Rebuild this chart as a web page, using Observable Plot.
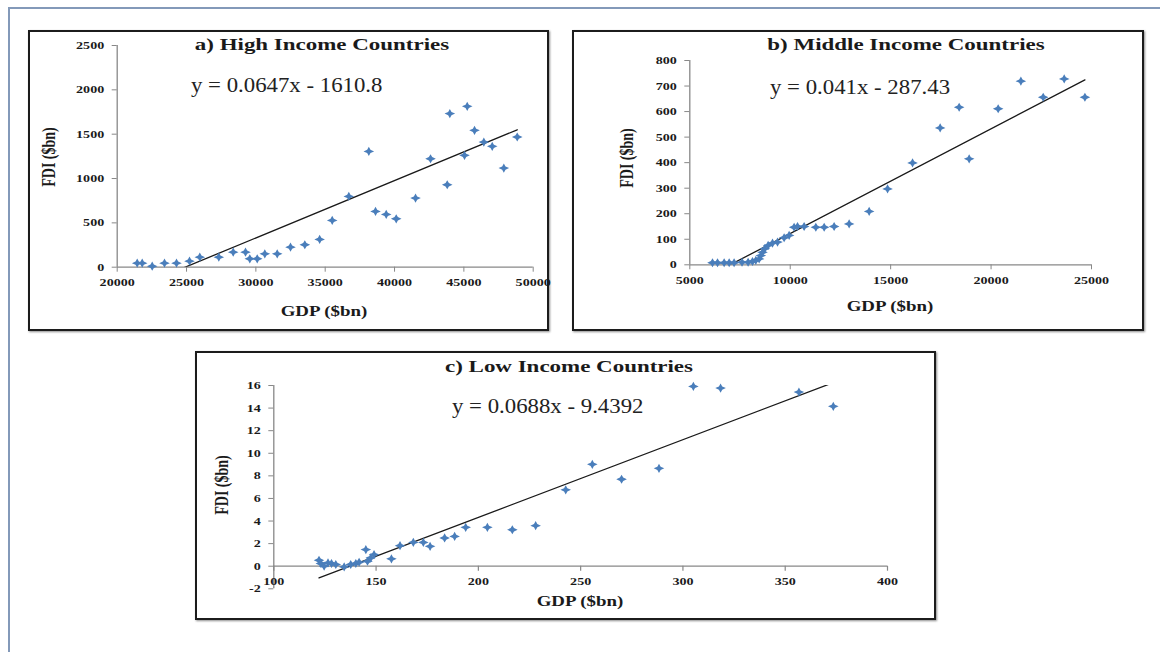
<!DOCTYPE html>
<html>
<head>
<meta charset="utf-8">
<script src="https://cdn.jsdelivr.net/npm/d3@7"></script>
<script src="https://cdn.jsdelivr.net/npm/@observablehq/plot@0.6"></script>
<style>
  body { margin: 0; background: #fff; }
  #page { position: relative; width: 1160px; height: 652px; overflow: hidden; background: #fff;
          font-family: "Liberation Serif", "Times New Roman", serif; }
  .outer { position: absolute; left: 8px; top: 7px; width: 1300px; height: 800px;
           border-left: 2px solid #8399b9; border-top: 2px solid #8399b9; }
  .frame { position: absolute; box-sizing: border-box; border: 2px solid #1c1c1c;
           box-shadow: 1px 1px 2px rgba(0,0,0,0.45); background: #fff; }
  .plot { position: absolute; }
  .plot svg { display: block; overflow: visible; max-width: none; }
  .lbl { position: absolute; white-space: nowrap; color: #1a1a1a; line-height: 1; }
  .title { font-weight: bold; font-size: 17px; transform: translate(-50%, -50%) scaleX(1.35); }
  .eq { font-size: 20px; color: #222; transform-origin: left center; transform: translate(0, -50%) scaleX(1.14); }
  .xt { font-weight: bold; font-size: 14px; transform: translate(-50%, -50%) scaleX(1.35); }
  .yt { font-weight: bold; font-size: 14px; transform: translate(-50%, -50%) scaleX(1.35) rotate(-90deg); }
</style>
</head>
<body>
<div id="page"><div class="outer"></div></div>
<script>
// ---------- data: a) High income ----------
const highGDP = [21442, 21803, 22524, 23411, 24277, 25214, 25957, 27328, 28366, 29253, 29563, 30097,
  30645, 31539, 32498, 33530, 34600, 35506, 36703, 38146, 38629, 39400, 40121, 41514, 42596, 43800,
  43988, 45048, 45242, 45769, 46440, 47045, 47882, 48848];
const highFDI = [45, 45, 11, 45, 45, 68, 113, 113, 169, 169, 95, 95,
  151, 151, 226, 253, 313, 527, 798, 1306, 629, 595, 546, 779, 1223, 930,
  1732, 1261, 1814, 1543, 1411, 1363, 1118, 1468];
const highFit = [0.0647, -1610.8];
const highXTicks = [20000, 25000, 30000, 35000, 40000, 45000, 50000];
const highYTicks = [0, 500, 1000, 1500, 2000, 2500];

// ---------- data: b) Middle income ----------
const midGDP = [6130, 6380, 6710, 6960, 7206, 7600, 7903, 8122, 8287, 8452, 8536, 8620, 8735, 8900,
  9118, 9367, 9696, 9945, 10194, 10363, 10692, 11275, 11690, 12186, 12933, 13930, 14846, 16090,
  17465, 18411, 18909, 20353, 21484, 22595, 23641, 24672];
const midFDI = [8, 8, 8, 8, 8, 10, 10, 13, 17, 23, 36, 49, 63, 76,
  85, 89, 106, 115, 147, 150, 150, 147, 147, 150, 160, 209, 297, 399,
  536, 617, 415, 611, 719, 656, 728, 656];
const midFit = [0.041, -287.43];
const midXTicks = [5000, 10000, 15000, 20000, 25000];
const midYTicks = [0, 100, 200, 300, 400, 500, 600, 700, 800];

// ---------- data: c) Low income ----------
const lowGDP = [122.1, 123, 124.6, 126.5, 128.2, 130.3, 134.4, 137.6, 140.1, 141.7, 145, 145.8, 147.4,
  149, 157.5, 161.7, 168.2, 173.1, 176.4, 183.5, 188.4, 193.8, 204.4, 216.6, 228, 242.7, 255.7, 270,
  288.3, 305.1, 318.4, 356.7, 373.5];
const lowFDI = [0.53, 0.24, 0, 0.3, 0.24, 0.15, -0.06, 0.15, 0.24, 0.35, 1.47, 0.44, 0.74,
  1.03, 0.65, 1.82, 2.11, 2.11, 1.76, 2.5, 2.64, 3.44, 3.44, 3.23, 3.59, 6.76, 9.02, 7.7,
  8.67, 15.92, 15.77, 15.42, 14.16];
const lowFit = [0.0688, -9.4392];
const lowXTicks = [100, 150, 200, 250, 300, 350, 400];
const lowYTicks = [-2, 0, 2, 4, 6, 8, 10, 12, 14, 16];

const titles = ["a) High Income Countries", "b) Middle Income Countries", "c) Low Income Countries"];
const equations = ["y = 0.0647x - 1610.8", "y = 0.041x - 287.43", "y = 0.0688x - 9.4392"];
const xTitle = "GDP ($bn)";
const yTitle = "FDI ($bn)";

// ---------- styling ----------
const BLUE = "#4a7ebb";
const AXIS = "#888888";
const INK = "#1a1a1a";
const fmt = d => String(d);

// four-pointed star marker
const star4 = {
  draw(ctx, size) {
    const r = Math.sqrt(size / Math.PI);
    const rx = r * 1.15, ry = r, w = r * 0.36;
    ctx.moveTo(0, -ry); ctx.lineTo(w, -w); ctx.lineTo(rx, 0); ctx.lineTo(w, w);
    ctx.lineTo(0, ry); ctx.lineTo(-w, w); ctx.lineTo(-rx, 0); ctx.lineTo(-w, -w);
    ctx.closePath();
  }
};

const page = document.getElementById("page");

function addDiv(cls, text, x, y) {
  const d = document.createElement("div");
  d.className = "lbl " + cls;
  d.textContent = text;
  d.style.left = x + "px";
  d.style.top = y + "px";
  page.appendChild(d);
}

function panel(cfg) {
  const {gdp, fdi, fit, xDomain, yDomain, xTicks, yTicks, box, area, zeroAxis} = cfg;
  const fr = document.createElement("div");
  fr.className = "frame";
  Object.assign(fr.style, {left: box.x + "px", top: box.y + "px", width: box.w + "px", height: box.h + "px"});
  page.appendChild(fr);

  const pts = gdp.map((g, i) => ({g, f: fdi[i]}));
  const fitPts = d3.extent(gdp).map(g => ({g, f: fit[0] * g + fit[1]}));
  const ppu = (area.bottom - area.top) / (yDomain[1] - yDomain[0]);

  const marks = [
    Plot.ruleX([xDomain[0]], {stroke: AXIS, strokeWidth: 1.3}),
    Plot.ruleY([zeroAxis ? 0 : yDomain[0]], {stroke: AXIS, strokeWidth: 1.3}),
    Plot.axisY({ticks: yTicks, tickSize: 5, tickPadding: 8, tickFormat: fmt, stroke: AXIS, fill: INK,
      fontSize: 11, fontWeight: "bold", label: null})
  ];
  if (zeroAxis) {
    marks.push(Plot.ruleX(xTicks, {x: d => d, y1: 0, y2: -5 / ppu, stroke: AXIS, strokeWidth: 1.2}));
    marks.push(Plot.text(xTicks, {x: d => d, y: 0, dy: 15, text: fmt, fill: INK, fontSize: 11, fontWeight: "bold"}));
  } else {
    marks.push(Plot.axisX({ticks: xTicks, tickSize: 5, tickPadding: 6, tickFormat: fmt, stroke: AXIS, fill: INK,
      fontSize: 11, fontWeight: "bold", label: null}));
  }
  marks.push(Plot.line(fitPts, {x: "g", y: "f", stroke: INK, strokeWidth: 1.3, clip: true}));
  marks.push(Plot.dot(pts, {x: "g", y: "f", symbol: star4, r: 4.6, fill: BLUE, stroke: "none"}));

  const svg = Plot.plot({
    width: box.w, height: box.h,
    marginLeft: area.left - box.x, marginRight: box.x + box.w - area.right,
    marginTop: area.top - box.y, marginBottom: box.y + box.h - area.bottom,
    x: {domain: xDomain, axis: null},
    y: {domain: yDomain, axis: null},
    style: {background: "transparent", fontFamily: '"Liberation Serif", "Times New Roman", serif', overflow: "visible"},
    marks
  });
  // horizontally stretched tick labels, as in the reference
  svg.querySelectorAll("text").forEach(t => {
    const tr = t.getAttribute("transform");
    if (tr) t.setAttribute("transform", tr + " scale(1.28,1)");
  });
  const wrap = document.createElement("div");
  wrap.className = "plot";
  wrap.style.left = box.x + "px";
  wrap.style.top = box.y + "px";
  wrap.appendChild(svg);
  page.appendChild(wrap);
}

panel({gdp: highGDP, fdi: highFDI, fit: highFit, xDomain: [20000, 50000], yDomain: [0, 2500],
  xTicks: highXTicks, yTicks: highYTicks,
  box: {x: 28, y: 30, w: 521, h: 301}, area: {left: 116.7, right: 532.7, top: 45, bottom: 266.7}});
panel({gdp: midGDP, fdi: midFDI, fit: midFit, xDomain: [5000, 25000], yDomain: [0, 800],
  xTicks: midXTicks, yTicks: midYTicks,
  box: {x: 572, y: 30, w: 572, h: 301}, area: {left: 689.3, right: 1091, top: 60, bottom: 264.3}});
panel({gdp: lowGDP, fdi: lowFDI, fit: lowFit, xDomain: [100, 400], yDomain: [-2, 16],
  xTicks: lowXTicks, yTicks: lowYTicks, zeroAxis: true,
  box: {x: 195, y: 351, w: 741, h: 269}, area: {left: 273.3, right: 887, top: 385, bottom: 588.3}});

// titles, equations, axis titles
addDiv("title", titles[0], 322, 44);
addDiv("title", titles[1], 906, 44);
addDiv("title", titles[2], 569, 366);
addDiv("eq", equations[0], 191, 85);
addDiv("eq", equations[1], 770, 87);
addDiv("eq", equations[2], 452, 406);
addDiv("xt", xTitle, 324, 312);
addDiv("xt", xTitle, 890, 307);
addDiv("xt", xTitle, 580, 602);
addDiv("yt", yTitle, 50, 157);
addDiv("yt", yTitle, 628, 158);
addDiv("yt", yTitle, 223, 485);
</script>
</body>
</html>
